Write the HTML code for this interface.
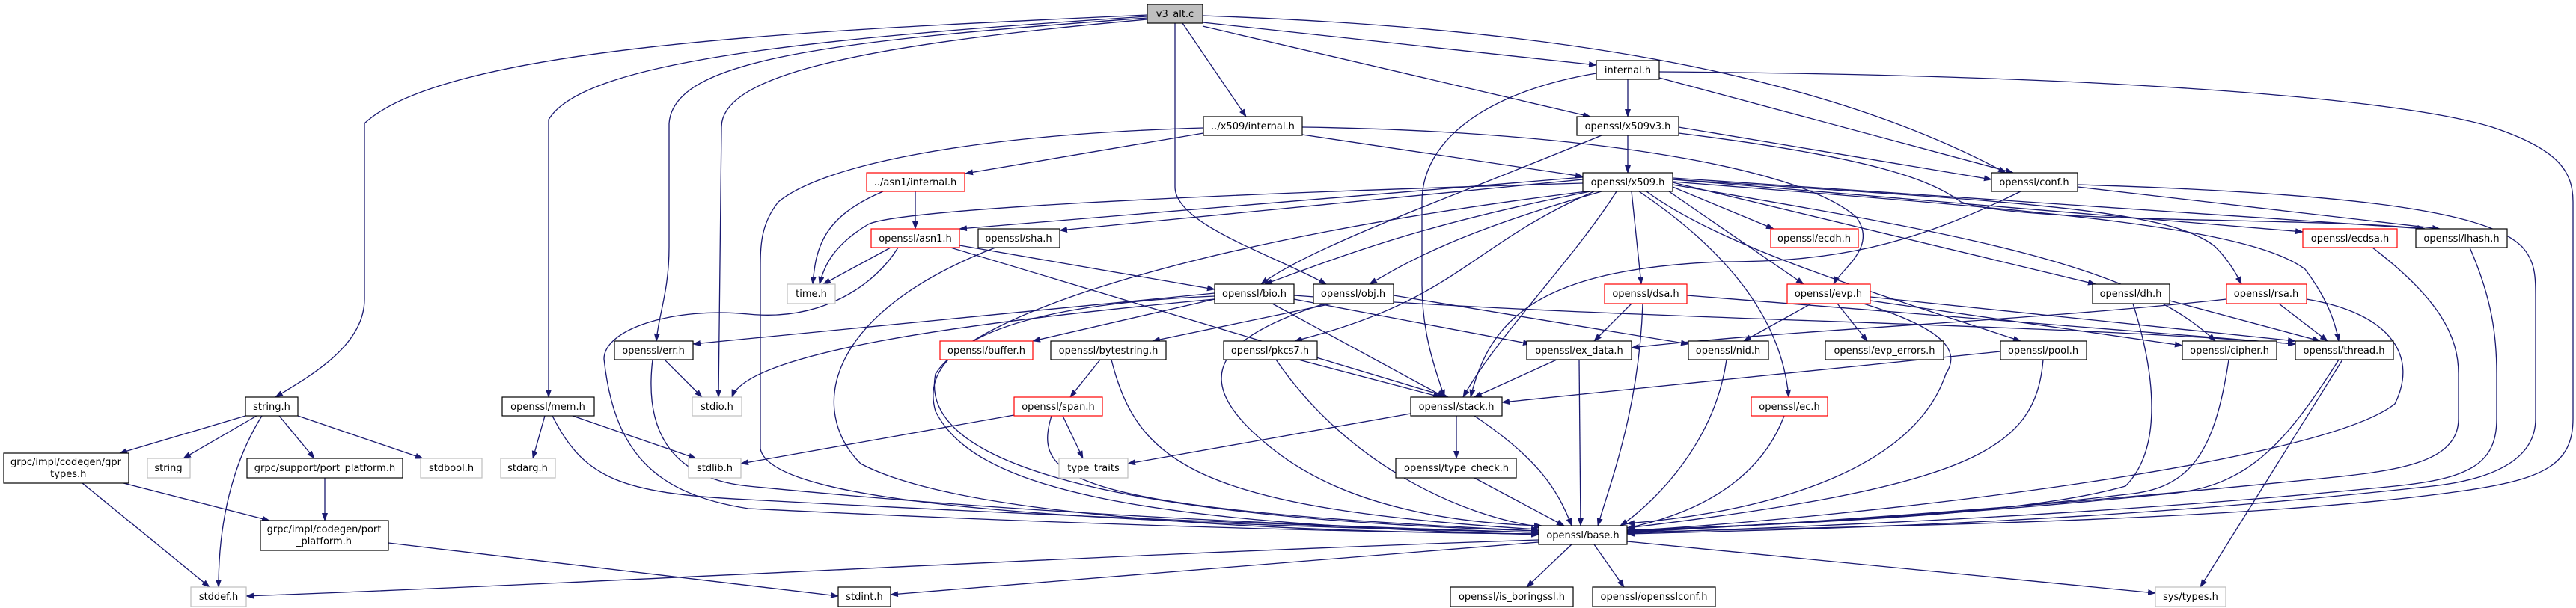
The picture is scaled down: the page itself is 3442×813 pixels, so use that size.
<!DOCTYPE html>
<html><head><meta charset="utf-8"><style>
html,body{margin:0;padding:0;background:#fff}
svg{display:block}
.e{fill:none;stroke:#191970;stroke-width:1.3}
text{font-family:"DejaVu Sans","Liberation Sans",sans-serif;font-size:13px;fill:#000;text-anchor:middle}
.n{fill:#fff;stroke:#000;stroke-width:1.2}
.r{fill:#fff;stroke:#ff0000;stroke-width:1.2}
.g{fill:#fff;stroke:#bfbfbf;stroke-width:1.2}
</style></head><body>
<svg width="3442" height="813" viewBox="0 0 3442 813" xmlns="http://www.w3.org/2000/svg">
<defs><marker id="a" markerWidth="11" markerHeight="8" refX="10" refY="4" orient="auto" markerUnits="userSpaceOnUse"><path d="M0,0 L11,4 L0,8 z" fill="#191970"/></marker></defs>
<g class="e" marker-end="url(#a)">
<path d="M1533,20 C1100,40 600,60 487,165 L487,400 C487,460 420,500 368,531"/>
<path d="M1533,22 C1100,50 780,80 733,160 L733,531"/>
<path d="M1533,24 C1100,55 900,80 894,165 L894,330 C894,390 880,420 877,456"/>
<path d="M1533,26 C1150,60 964,100 964,170 L960,531"/>
<path d="M1580,31 L1665,156"/>
<path d="M1570,31 L1570,250 C1570,300 1700,340 1772,380"/>
<path d="M1607,30 L2133,87"/>
<path d="M1607,35 L2125,156"/>
<path d="M1607,21 C2000,35 2400,80 2680,231"/>
<path d="M2175,106 L2175,156"/>
<path d="M2217,104 L2690,231"/>
<path d="M2133,98 C2000,120 1900,180 1900,270 L1900,380 C1900,450 1920,500 1930,531"/>
<path d="M2217,96 C2800,100 3200,130 3330,170 C3420,200 3438,230 3438,270 L3438,560 C3438,620 3400,640 3300,655 C3000,700 2400,705 2174,712"/>
<path d="M1608,178 L1290,232"/>
<path d="M1740,180 L2115,236"/>
<path d="M1608,171 C1300,180 1100,220 1040,270 C1016,300 1016,330 1016,360 L1016,600 C1030,680 1500,700 2056,712"/>
<path d="M1740,170 C2100,175 2400,220 2480,290 C2510,330 2460,360 2450,380"/>
<path d="M2140,181 C1950,260 1750,330 1685,380"/>
<path d="M2175,181 L2175,231"/>
<path d="M2243,170 L2661,240"/>
<path d="M2243,178 C2500,210 2580,240 2620,270 C2700,300 3100,290 3240,306"/>
<path d="M1180,256 C1100,290 1090,330 1086,380"/>
<path d="M1223,256 L1223,306"/>
<path d="M1190,331 L1100,380"/>
<path d="M1282,328 L1623,387"/>
<path d="M1270,331 L1935,531"/>
<path d="M1200,331 C1170,380 1100,430 1000,420 C900,410 807,440 807,480 C820,600 870,660 1000,680 C1400,700 1800,712 2056,714"/>
<path d="M1330,331 C1100,420 1080,550 1150,620 C1300,700 1800,712 2056,714"/>
<path d="M2115,237 L1282,306"/>
<path d="M2115,240 L1416,308"/>
<path d="M2125,256 C1900,300 1800,340 1690,380"/>
<path d="M2140,256 C1950,310 1880,350 1830,380"/>
<path d="M2115,245 C1600,260 1200,280 1160,300 C1110,330 1100,360 1095,380"/>
<path d="M2160,256 C2100,350 2000,450 1955,531"/>
<path d="M2180,256 L2193,380"/>
<path d="M2235,250 L2370,306"/>
<path d="M2230,256 L2410,380"/>
<path d="M2130,256 C1960,330 1950,400 1730,456"/>
<path d="M2235,244 L2800,380"/>
<path d="M2235,240 C2700,270 2900,280 2960,330 C2980,350 2990,370 2995,380"/>
<path d="M2200,256 C2300,330 2500,390 2700,456"/>
<path d="M2235,247 C2600,310 2850,350 2960,456"/>
<path d="M2235,243 C2700,280 3000,300 3080,360 C3110,400 3120,430 3125,456"/>
<path d="M2190,256 C2300,330 2380,420 2390,531"/>
<path d="M2235,240 L3077,310"/>
<path d="M2235,238 L3240,306"/>
<path d="M2120,256 C1600,320 1300,420 1250,500 C1230,600 1400,690 2056,710"/>
<path d="M1623,400 L1380,456"/>
<path d="M1623,392 L926,460"/>
<path d="M1623,400 C1300,430 1000,470 978,531"/>
<path d="M1700,406 L1930,531"/>
<path d="M1729,400 L2045,460"/>
<path d="M1729,395 C2200,430 2700,430 3067,460"/>
<path d="M1623,396 C1300,410 1230,480 1250,550 C1300,650 1500,700 2056,715"/>
<path d="M1780,406 L1540,456"/>
<path d="M1862,395 L2256,460"/>
<path d="M1770,406 C1600,460 1600,520 1700,600 C1800,680 1950,700 2060,703"/>
<path d="M2180,406 L2130,456"/>
<path d="M2254,395 L3067,460"/>
<path d="M2195,406 C2190,550 2150,650 2135,703"/>
<path d="M2420,406 L2330,456"/>
<path d="M2455,406 L2495,456"/>
<path d="M2499,397 L3067,456"/>
<path d="M2499,402 L2916,462"/>
<path d="M2490,406 C2600,440 2620,470 2600,500 C2550,650 2300,690 2174,700"/>
<path d="M1735,481 L1925,531"/>
<path d="M1705,481 C1800,620 1950,690 2060,705"/>
<path d="M2080,481 L1970,531"/>
<path d="M2110,481 L2112,703"/>
<path d="M1885,553 L1507,620"/>
<path d="M1946,556 L1946,613"/>
<path d="M1970,556 C2050,610 2080,650 2100,703"/>
<path d="M1970,639 L2090,703"/>
<path d="M1470,481 L1430,531"/>
<path d="M1485,481 C1520,620 1600,680 2056,708"/>
<path d="M1420,556 L1447,613"/>
<path d="M1355,555 L990,620"/>
<path d="M1405,556 C1380,640 1420,680 2056,710"/>
<path d="M728,556 L712,613"/>
<path d="M765,556 L930,613"/>
<path d="M738,556 C780,640 830,660 1000,668 C1400,690 1800,705 2056,712"/>
<path d="M888,481 L938,531"/>
<path d="M872,481 C860,580 900,640 1000,650 C1400,690 1800,705 2056,712"/>
<path d="M328,556 L160,606"/>
<path d="M343,556 L245,613"/>
<path d="M373,556 L420,613"/>
<path d="M398,556 L565,613"/>
<path d="M350,556 C310,620 292,700 292,785"/>
<path d="M110,646 L280,785"/>
<path d="M165,646 L360,696"/>
<path d="M434,639 L434,696"/>
<path d="M519,726 L1120,797"/>
<path d="M2056,722 C1500,740 800,780 329,797"/>
<path d="M2056,725 L1190,795"/>
<path d="M2100,728 L2040,785"/>
<path d="M2130,728 L2170,785"/>
<path d="M2174,724 L2880,793"/>
<path d="M2307,481 C2290,600 2200,680 2165,703"/>
<path d="M2673,470 L2007,538"/>
<path d="M2730,481 C2720,600 2640,650 2174,706"/>
<path d="M2384,556 C2360,620 2300,680 2174,706"/>
<path d="M2899,402 L3100,456"/>
<path d="M2850,406 C2880,500 2890,600 2840,650 C2700,690 2400,700 2174,709"/>
<path d="M3045,406 L3110,456"/>
<path d="M2975,400 C2700,430 2400,440 2180,465"/>
<path d="M3082,400 C3200,420 3230,480 3200,540 C3100,620 2500,690 2174,710"/>
<path d="M2978,481 C2960,600 2930,650 2850,660 C2600,690 2400,700 2174,710"/>
<path d="M3125,481 C3050,600 3000,650 2900,660 C2600,690 2400,700 2174,711"/>
<path d="M3130,481 L2940,785"/>
<path d="M3170,331 C3260,400 3285,450 3285,500 L3285,560 C3285,620 3200,630 3100,640 C2700,680 2400,700 2174,712"/>
<path d="M3300,331 C3330,400 3336,450 3336,500 L3336,560 C3336,620 3300,640 3200,650 C2800,690 2400,705 2174,713"/>
<path d="M2776,247 C3200,260 3330,290 3370,330 C3388,350 3388,370 3388,400 L3388,560 C3388,610 3340,640 3250,650 C2800,700 2400,708 2174,714"/>
<path d="M2700,256 C2550,330 2450,350 2300,350 C2050,360 1990,430 1965,531"/>
<path d="M2776,250 L3260,306"/>
</g>
<g>
<rect x="1533" y="6" width="74" height="25" fill="#bfbfbf" stroke="#000" stroke-width="1.2"/><text x="1570" y="23">v3_alt.c</text>
<rect class="n" x="2133" y="81" width="84" height="25"/><text x="2175" y="98">internal.h</text>
<rect class="n" x="1608" y="156" width="132" height="25"/><text x="1674" y="173">../x509/internal.h</text>
<rect class="n" x="2107" y="156" width="136" height="25"/><text x="2175" y="173">openssl/x509v3.h</text>
<rect class="r" x="1158" y="231" width="131" height="25"/><text x="1223" y="248">../asn1/internal.h</text>
<rect class="n" x="2115" y="231" width="120" height="25"/><text x="2175" y="248">openssl/x509.h</text>
<rect class="n" x="2661" y="231" width="115" height="25"/><text x="2718" y="248">openssl/conf.h</text>
<rect class="r" x="1164" y="306" width="118" height="25"/><text x="1223" y="323">openssl/asn1.h</text>
<rect class="n" x="1307" y="306" width="109" height="25"/><text x="1361" y="323">openssl/sha.h</text>
<rect class="r" x="2366" y="306" width="117" height="25"/><text x="2424" y="323">openssl/ecdh.h</text>
<rect class="r" x="3077" y="306" width="126" height="25"/><text x="3140" y="323">openssl/ecdsa.h</text>
<rect class="n" x="3228" y="306" width="122" height="25"/><text x="3289" y="323">openssl/lhash.h</text>
<rect class="g" x="1052" y="380" width="64" height="26"/><text x="1084" y="397">time.h</text>
<rect class="n" x="1623" y="380" width="106" height="26"/><text x="1676" y="397">openssl/bio.h</text>
<rect class="n" x="1755" y="380" width="107" height="26"/><text x="1808" y="397">openssl/obj.h</text>
<rect class="r" x="2144" y="380" width="110" height="26"/><text x="2199" y="397">openssl/dsa.h</text>
<rect class="r" x="2388" y="380" width="111" height="26"/><text x="2443" y="397">openssl/evp.h</text>
<rect class="n" x="2796" y="380" width="103" height="26"/><text x="2847" y="397">openssl/dh.h</text>
<rect class="r" x="2975" y="380" width="107" height="26"/><text x="3028" y="397">openssl/rsa.h</text>
<rect class="n" x="821" y="456" width="105" height="25"/><text x="873" y="473">openssl/err.h</text>
<rect class="r" x="1256" y="456" width="124" height="25"/><text x="1318" y="473">openssl/buffer.h</text>
<rect class="n" x="1404" y="456" width="154" height="25"/><text x="1481" y="473">openssl/bytestring.h</text>
<rect class="n" x="1635" y="456" width="125" height="25"/><text x="1697" y="473">openssl/pkcs7.h</text>
<rect class="n" x="2040" y="456" width="140" height="25"/><text x="2110" y="473">openssl/ex_data.h</text>
<rect class="n" x="2256" y="456" width="107" height="25"/><text x="2309" y="473">openssl/nid.h</text>
<rect class="n" x="2439" y="456" width="158" height="25"/><text x="2518" y="473">openssl/evp_errors.h</text>
<rect class="n" x="2673" y="456" width="115" height="25"/><text x="2730" y="473">openssl/pool.h</text>
<rect class="n" x="2916" y="456" width="126" height="25"/><text x="2979" y="473">openssl/cipher.h</text>
<rect class="n" x="3067" y="456" width="131" height="25"/><text x="3132" y="473">openssl/thread.h</text>
<rect class="n" x="328" y="531" width="70" height="25"/><text x="363" y="548">string.h</text>
<rect class="n" x="671" y="531" width="123" height="25"/><text x="732" y="548">openssl/mem.h</text>
<rect class="g" x="925" y="531" width="66" height="25"/><text x="958" y="548">stdio.h</text>
<rect class="r" x="1355" y="531" width="118" height="25"/><text x="1414" y="548">openssl/span.h</text>
<rect class="n" x="1885" y="531" width="122" height="25"/><text x="1946" y="548">openssl/stack.h</text>
<rect class="r" x="2340" y="531" width="102" height="25"/><text x="2391" y="548">openssl/ec.h</text>
<rect class="n" x="5" y="606" width="167" height="40"/><text x="88" y="622">grpc/impl/codegen/gpr</text><text x="88" y="638">_types.h</text>
<rect class="g" x="197" y="613" width="57" height="26"/><text x="225" y="630">string</text>
<rect class="n" x="330" y="613" width="208" height="26"/><text x="434" y="630">grpc/support/port_platform.h</text>
<rect class="g" x="562" y="613" width="82" height="26"/><text x="603" y="630">stdbool.h</text>
<rect class="g" x="669" y="613" width="73" height="26"/><text x="705" y="630">stdarg.h</text>
<rect class="g" x="920" y="613" width="70" height="26"/><text x="955" y="630">stdlib.h</text>
<rect class="g" x="1415" y="613" width="92" height="26"/><text x="1461" y="630">type_traits</text>
<rect class="n" x="1865" y="613" width="161" height="26"/><text x="1946" y="630">openssl/type_check.h</text>
<rect class="n" x="348" y="696" width="171" height="40"/><text x="433" y="712">grpc/impl/codegen/port</text><text x="433" y="728">_platform.h</text>
<rect class="n" x="2056" y="703" width="118" height="25"/><text x="2115" y="720">openssl/base.h</text>
<rect class="g" x="255" y="785" width="74" height="26"/><text x="292" y="802">stddef.h</text>
<rect class="n" x="1120" y="785" width="70" height="26"/><text x="1155" y="802">stdint.h</text>
<rect class="n" x="1938" y="785" width="164" height="26"/><text x="2020" y="802">openssl/is_boringssl.h</text>
<rect class="n" x="2128" y="785" width="164" height="26"/><text x="2210" y="802">openssl/opensslconf.h</text>
<rect class="g" x="2880" y="785" width="94" height="26"/><text x="2927" y="802">sys/types.h</text>
</g>
</svg>
</body></html>
